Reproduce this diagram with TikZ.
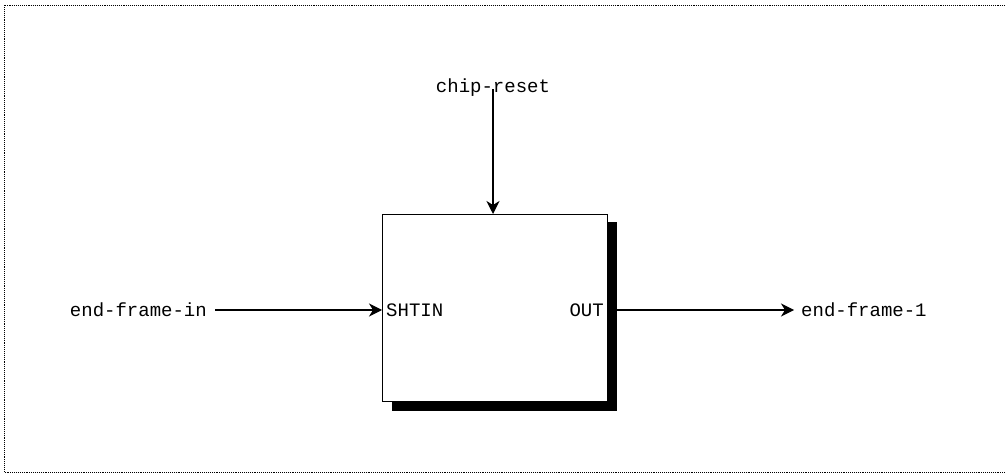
\documentclass[tikz,border=0pt]{standalone}
\usepackage{fontspec}
\setmainfont{Liberation Mono}
\usetikzlibrary{arrows.meta}
\begin{document}
\begin{tikzpicture}[x=1pt,y=-1pt,
  lbl/.style={font=\fontsize{19}{22}\selectfont, inner sep=0pt},
  wire/.style={line width=1.3pt, -{Stealth[length=13pt,width=13pt,inset=4pt]}},
  frame/.style={densely dotted, line width=0.9pt},
  blockbox/.style={draw, line width=1.3pt, fill=white, minimum width=225pt, minimum height=187pt, inner sep=0pt}]
\useasboundingbox (0,0) rectangle (1005,473);
% outer dotted frame
\draw[frame] (1005,5) -- (4,5) -- (4,472) -- (1005,472);
% shadow
\fill[black] (392,222) rectangle (617,411);
% block
\node[blockbox, anchor=north west] (box) at (382,214) {};
\node[lbl, anchor=west] (shtin) at (386,310) {SHTIN};
\node[lbl, anchor=east] (out) at (604,310) {OUT};
% labels
\node[lbl, anchor=east] (inlbl) at (207,310) {end-frame-in};
\node[lbl, anchor=west] (outlbl) at (801,310) {end-frame-1};
\node[lbl] (chip) at (493,88) {chip-reset};
% ports
\coordinate (pin) at (box.west |- inlbl.east);
\coordinate (pout) at (box.east |- outlbl.west);
\coordinate (pchip) at (box.north -| chip.south);
% connectors
\draw[wire] ([xshift=8pt]inlbl.east) -- (pin);
\draw[wire] (pout) -- ([xshift=-7pt]outlbl.west);
\draw[wire] ([yshift=8pt]chip.south) -- (pchip);
\end{tikzpicture}
\end{document}
